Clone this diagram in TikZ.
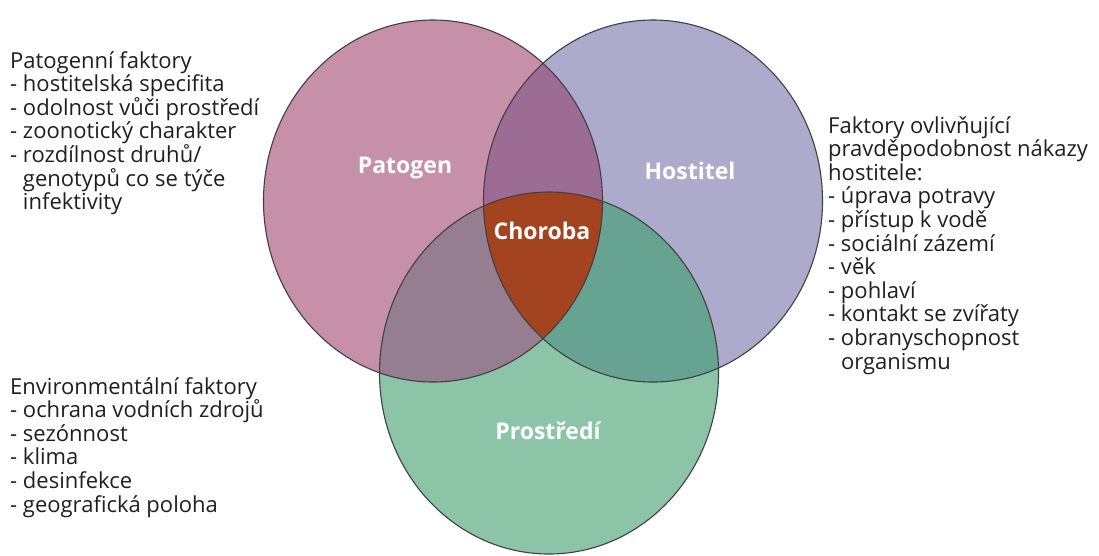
\documentclass[tikz,border=0pt]{standalone}
\usepackage{fontspec}
\setmainfont{Open Sans}
\definecolor{patfill}{HTML}{C790A9}
\definecolor{hostfill}{HTML}{ACABCB}
\definecolor{envfill}{HTML}{8CC4A7}
\definecolor{pathost}{HTML}{9D6C95}
\definecolor{patenv}{HTML}{947E8F}
\definecolor{hostenv}{HTML}{67A391}
\definecolor{core}{HTML}{A4431F}
\begin{document}
\begin{tikzpicture}[x=1pt,y=-1pt,
  oval/.style={x radius=169.5pt, y radius=181pt},
  ring/.style={draw=black!75, line width=1.1pt},
  sidetext/.style={anchor=north west, align=left, inner sep=0pt, text=black!88,
    font=\fontsize{22}{23.6}\selectfont},
  setlabel/.style={text=white, inner sep=0pt, font=\bfseries\fontsize{23}{26}\selectfont}]
\useasboundingbox (0,0) rectangle (1099,555);

% circle centres
\coordinate (pc) at (433,201);
\coordinate (hc) at (653,201);
\coordinate (ec) at (549,373);

% single-set fills
\fill[patfill] (pc) ellipse [oval];
\fill[hostfill] (hc) ellipse [oval];
\fill[envfill] (ec) ellipse [oval];

% pairwise overlaps
\begin{scope}
  \clip (hc) ellipse [oval];
  \fill[hostenv] (ec) ellipse [oval];
\end{scope}
\begin{scope}
  \clip (pc) ellipse [oval];
  \fill[pathost] (hc) ellipse [oval];
  \fill[patenv] (ec) ellipse [oval];
\end{scope}
% triple overlap
\begin{scope}
  \clip (pc) ellipse [oval];
  \clip (hc) ellipse [oval];
  \fill[core] (ec) ellipse [oval];
\end{scope}

% outlines
\draw[ring] (pc) ellipse [oval];
\draw[ring] (hc) ellipse [oval];
\draw[ring] (ec) ellipse [oval];

% set labels
\node[setlabel] (patogen) at (405,168) {Patogen};
\node[setlabel] (hostitel) at (690,171) {Hostitel};
\node[setlabel] (choroba) at (542,231) {Choroba};
\node[setlabel] (prostredi) at (548,431) {Prostředí};

% factor lists
\node[sidetext] (patf) at (10,51) {Patogenní faktory\\
- hostitelská specifita\\
- odolnost vůči prostředí\\
- zoonotický charakter\\
- rozdílnost druhů/\\
\phantom{- }genotypů co se týče\\
\phantom{- }infektivity};

\node[sidetext] (envf) at (10,377) {Environmentální faktory\\
- ochrana vodních zdrojů\\
- sezónnost\\
- klima\\
- desinfekce\\
- geografická poloha};

\node[sidetext] (hostf) at (828,116) {Faktory ovlivňující\\
pravděpodobnost nákazy\\
hostitele:\\
- úprava potravy\\
- přístup k vodě\\
- sociální zázemí\\
- věk\\
- pohlaví\\
- kontakt se zvířaty\\
- obranyschopnost\\
\phantom{- }organismu};
\end{tikzpicture}
\end{document}
